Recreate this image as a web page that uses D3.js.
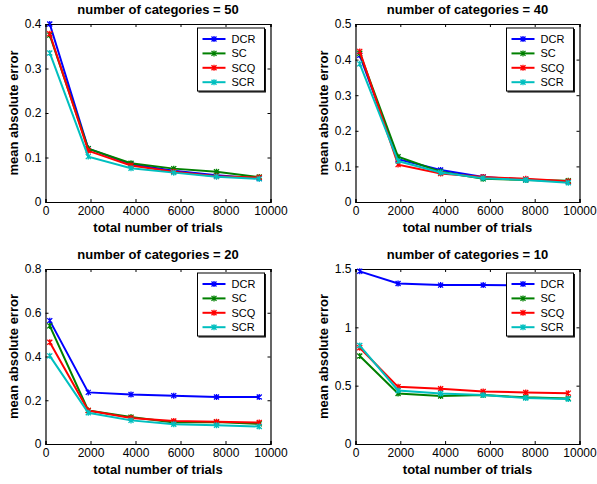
<!DOCTYPE html>
<html>
<head>
<meta charset="utf-8">
<script src="https://cdn.jsdelivr.net/npm/d3@7"></script>
<style>
  body { margin: 0; background: #fff; }
  svg text { font-family: "Liberation Sans", Arial, sans-serif; fill: #000; }
  .title, .axLabel { font-weight: bold; font-size: 13px; }
  .tick text { font-size: 12px; }
  .legText { font-size: 11px; }
</style>
</head>
<body>
<svg class="figSVG" width="597" height="484"></svg>
<script>
const svg = d3.select('svg.figSVG');

// data
const trials = [190, 1900, 3800, 5700, 7600, 9500];
const methods = ['DCR', 'SC', 'SCQ', 'SCR'];
const methodCols = ['#0000ff', '#008000', '#ff0000', '#00bfbf'];
const categories = [50, 40, 20, 10];
const yMaxes = [0.4, 0.5, 0.8, 1.5];
const yTickSets = [
  [0, 0.1, 0.2, 0.3, 0.4],
  [0, 0.1, 0.2, 0.3, 0.4, 0.5],
  [0, 0.2, 0.4, 0.6, 0.8],
  [0, 0.5, 1, 1.5]
];
const xTicks = [0, 2000, 4000, 6000, 8000, 10000];

// mean absolute error, rows = DCR, SC, SCQ, SCR
const mae50 = [
  [0.400, 0.120, 0.085, 0.070, 0.060, 0.053],
  [0.375, 0.120, 0.087, 0.075, 0.068, 0.056],
  [0.378, 0.115, 0.082, 0.068, 0.058, 0.055],
  [0.335, 0.102, 0.076, 0.066, 0.057, 0.052]
];
const mae40 = [
  [0.412, 0.120, 0.090, 0.070, 0.063, 0.057],
  [0.418, 0.127, 0.085, 0.065, 0.062, 0.060],
  [0.423, 0.105, 0.080, 0.070, 0.065, 0.058],
  [0.388, 0.115, 0.083, 0.067, 0.062, 0.054]
];
const mae20 = [
  [0.564, 0.236, 0.226, 0.221, 0.215, 0.215],
  [0.540, 0.153, 0.123, 0.098, 0.100, 0.092],
  [0.465, 0.153, 0.119, 0.105, 0.102, 0.098],
  [0.403, 0.143, 0.108, 0.090, 0.086, 0.080]
];
const mae10 = [
  [1.480, 1.376, 1.362, 1.362, 1.360, 1.358],
  [0.754, 0.433, 0.411, 0.419, 0.400, 0.391],
  [0.825, 0.490, 0.473, 0.450, 0.442, 0.436],
  [0.844, 0.459, 0.433, 0.419, 0.394, 0.386]
];
const maeAll = [mae50, mae40, mae20, mae10];

// panel frames [left, top]
const panelPos = [[45.5, 24], [355.5, 24], [45.5, 269], [355.5, 269]];
const panelW = [225, 224, 225, 224];
const panelH = [178, 178, 175, 175];

function drawPanel(i){
  const [px, py] = panelPos[i];
  const w = panelW[i], h = panelH[i];
  const g = svg.append('g').attr('class', 'panel')
    .attr('transform', `translate(${px},${py})`);

  const x = d3.scaleLinear().domain([0, 10000]).range([0, w]);
  const y = d3.scaleLinear().domain([0, yMaxes[i]]).range([h, 0]);

  // axes, matlab style inward ticks on all sides
  g.append('g').attr('class', 'tick xb')
    .attr('transform', `translate(0,${h})`)
    .call(d3.axisBottom(x).tickValues(xTicks).tickSize(-3).tickPadding(4).tickFormat(d3.format('d')));
  g.append('g').attr('class', 'tick xt')
    .call(d3.axisTop(x).tickValues(xTicks).tickSize(-3).tickFormat(''));
  g.append('g').attr('class', 'tick yl')
    .call(d3.axisLeft(y).tickValues(yTickSets[i]).tickSize(-3).tickPadding(4).tickFormat(d => d3.format('~g')(d)));
  g.append('g').attr('class', 'tick yr')
    .attr('transform', `translate(${w},0)`)
    .call(d3.axisRight(y).tickValues(yTickSets[i]).tickSize(-3).tickFormat(''));

  g.selectAll('.domain').attr('stroke', '#000').attr('stroke-width', 1.2);
  g.selectAll('.tick line').attr('stroke', '#000');
  g.selectAll('.tick text').attr('fill', '#000');

  const line = d3.line().x((d, j) => x(trials[j])).y(d => y(d));

  maeAll[i].forEach((vals, k) => {
    g.append('path')
      .datum(vals)
      .attr('d', line)
      .attr('fill', 'none')
      .attr('stroke', methodCols[k])
      .attr('stroke-width', 2);
    g.append('g').selectAll('path')
      .data(vals)
      .enter()
      .append('path')
      .attr('transform', (d, j) => `translate(${x(trials[j])},${y(d)})`)
      .attr('d', 'M-2.5,-2.5L2.5,2.5M-2.5,2.5L2.5,-2.5M0,-3L0,3')
      .attr('stroke', methodCols[k])
      .attr('stroke-width', 1.3);
  });

  // titles
  g.append('text').attr('class', 'title')
    .attr('x', w / 2).attr('y', -10)
    .style('text-anchor', 'middle')
    .text(`number of categories = ${categories[i]}`);
  g.append('text').attr('class', 'axLabel')
    .attr('x', w / 2).attr('y', h + 30)
    .style('text-anchor', 'middle')
    .text('total number of trials');
  g.append('text').attr('class', 'axLabel')
    .attr('transform', `translate(-28,${h / 2}) rotate(-90)`)
    .style('text-anchor', 'middle')
    .text('mean absolute error');

  // legend
  const lw = 67, lh = 63;
  const lg = g.append('g').attr('class', 'legend')
    .attr('transform', `translate(${w - lw - 6},4)`);
  lg.append('rect')
    .attr('width', lw).attr('height', lh)
    .attr('fill', '#fff').attr('stroke', '#000').attr('stroke-width', 1);
  lg.append('path')
    .attr('d', `M1,${lh + 0.8}H${lw + 0.8}V1`)
    .attr('fill', 'none').attr('stroke', '#000').attr('stroke-width', 1.2);
  methods.forEach((m, k) => {
    const ry = 11 + k * 14.4;
    lg.append('line')
      .attr('x1', 5).attr('x2', 28).attr('y1', ry).attr('y2', ry)
      .attr('stroke', methodCols[k]).attr('stroke-width', 2);
    lg.append('path')
      .attr('transform', `translate(16.5,${ry})`)
      .attr('d', 'M-2.5,-2.5L2.5,2.5M-2.5,2.5L2.5,-2.5M0,-3L0,3')
      .attr('stroke', methodCols[k]).attr('stroke-width', 1.3);
    lg.append('text').attr('class', 'legText')
      .attr('x', 34).attr('y', ry + 4)
      .text(m);
  });
}

categories.forEach((c, i) => drawPanel(i));
</script>
</body>
</html>
